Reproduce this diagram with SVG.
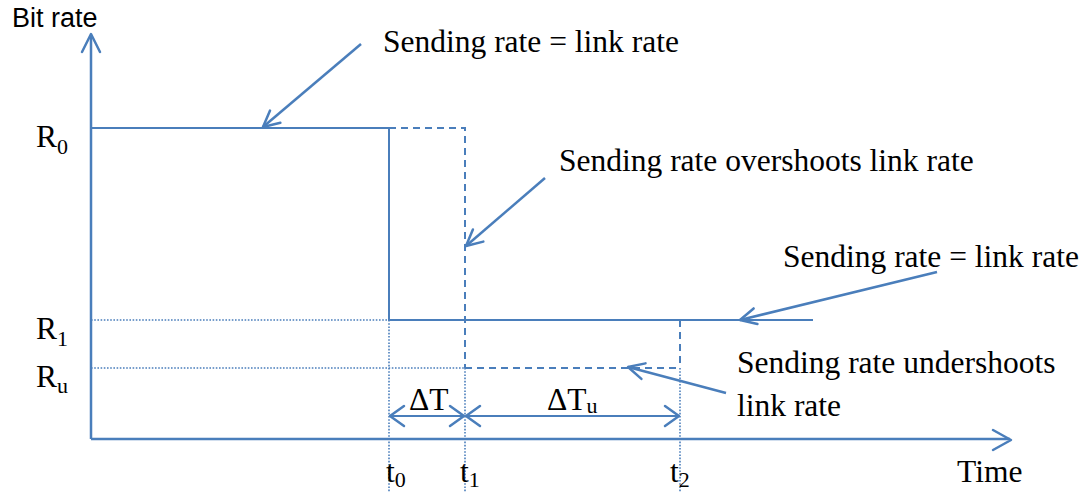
<svg xmlns="http://www.w3.org/2000/svg" width="1085" height="492" viewBox="0 0 1085 492">
<style>
.ln{stroke:#4a7ebb;fill:none;stroke-width:2}
.co{stroke:#4a7ebb;fill:none;stroke-width:2.5}
.ax{stroke:#4a7ebb;fill:none;stroke-width:2.5}
.ds{stroke:#4a7ebb;fill:none;stroke-width:2;stroke-dasharray:7,5}
.dt{stroke:#4a7ebb;fill:none;stroke-width:1.6;stroke-dasharray:1.6,1.6}
.hd{stroke:#4a7ebb;fill:none;stroke-width:2.5;stroke-linecap:round;stroke-linejoin:round}
.t{font-family:"Liberation Serif","Times New Roman",serif;font-size:31.5px;fill:#000}
.sub{font-size:22px}
.s{font-family:"Liberation Sans",Arial,sans-serif;font-size:27px;fill:#000}
</style>
<defs>
<marker id="ah" viewBox="-18 -10 20 20" markerWidth="20" markerHeight="20" refX="0" refY="0" orient="auto" markerUnits="userSpaceOnUse">
<path d="M-16,-8 L0,0 L-16,8" class="hd"/>
</marker>
</defs>
<g id="axes">
<path class="ax" d="M91,439 V35"/>
<path class="hd" d="M82,52 L91,34 L100,52"/>
<path class="ax" d="M91,439 H1010"/>
<path class="hd" d="M993,430 L1011,440 L993,450"/>
<text class="s" x="12" y="27">Bit rate</text>
<text class="t" x="957" y="482">Time</text>
</g>
<g id="curves">
<path class="ln" d="M91,128 H389 V320 H813"/>
<path class="ds" d="M389,128 H465 V368"/>
<path class="ds" d="M465,368 H680"/>
<path class="ds" d="M680,320 V368"/>
<path class="dt" d="M91,320 H389"/>
<path class="dt" d="M91,368 H465"/>
<path class="dt" d="M389,320 V492"/>
<path class="dt" d="M465,368 V492"/>
<path class="dt" d="M680,368 V492"/>
</g>
<g id="labels">
<text class="t" x="36" y="147">R<tspan class="sub" dy="7">0</tspan></text>
<text class="t" x="36" y="339">R<tspan class="sub" dy="7">1</tspan></text>
<text class="t" x="36" y="387">R<tspan class="sub" dy="6">u</tspan></text>
<text class="t" x="386" y="482">t<tspan class="sub" dy="5">0</tspan></text>
<text class="t" x="460" y="482">t<tspan class="sub" dy="5">1</tspan></text>
<text class="t" x="670" y="482">t<tspan class="sub" dy="5">2</tspan></text>
<text class="t" x="409" y="410">ΔT</text>
<text class="t" x="547" y="410">ΔT<tspan class="sub" dy="3">u</tspan></text>
</g>
<g id="intervals">
<path class="ln" d="M390,416 H464"/>
<path class="hd" d="M404,406 L390,416 L404,426"/>
<path class="hd" d="M450,406 L464,416 L450,426"/>
<path class="ln" d="M466,416 H679"/>
<path class="hd" d="M480,406 L466,416 L480,426"/>
<path class="hd" d="M665,406 L679,416 L665,426"/>
</g>
<g id="callout1">
<text class="t" x="383" y="52">Sending rate = link rate</text>
<path class="co" d="M361,44 L263,127" marker-end="url(#ah)"/>
</g>
<g id="callout2">
<text class="t" x="559" y="171">Sending rate overshoots link rate</text>
<path class="co" d="M545,178 L466,246" marker-end="url(#ah)"/>
</g>
<g id="callout3">
<text class="t" x="783" y="267">Sending rate = link rate</text>
<path class="co" d="M937,272 L740,320" marker-end="url(#ah)"/>
</g>
<g id="callout4">
<text class="t" x="737" y="373">Sending rate undershoots</text>
<text class="t" x="737" y="416">link rate</text>
<path class="co" d="M726,393 L628,367" marker-end="url(#ah)"/>
</g>
</svg>
